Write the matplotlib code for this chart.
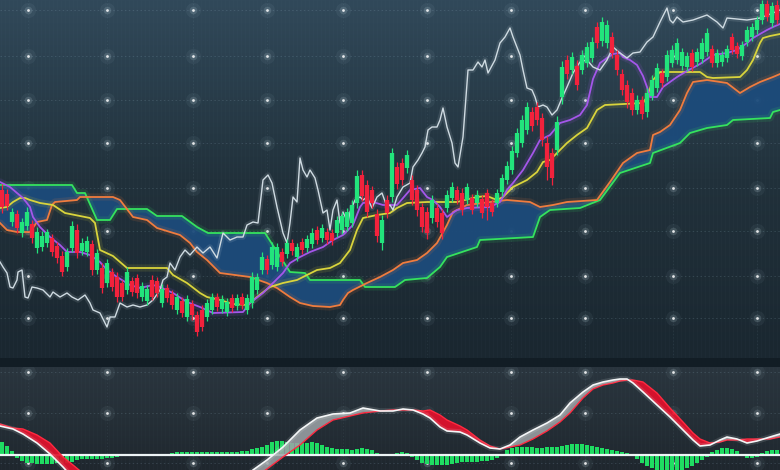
import numpy as np
import matplotlib.pyplot as plt
from matplotlib.colors import LinearSegmentedColormap

# ---- candle data (price units), one candle every 5 time steps ----
opens = [170, 166, 138, 146, 127, 134, 136, 112, 113, 117,
         122, 114, 104, 93, 112, 130, 109, 108, 116, 90,
         92, 77, 88, 83, 77, 70, 79, 82, 63, 59,
         80, 79, 57, 72, 66, 50, 59, 43, 56, 45,
         50, 43, 50, 63, 51, 48, 62, 54, 63, 50,
         57, 70, 90, 101, 95, 93, 108, 106, 117, 103,
         118, 112, 116, 130, 122, 128, 127, 127, 130, 133,
         137, 157, 185, 175, 170, 146, 117, 160, 163, 193,
         197, 192, 180, 170, 153, 148, 142, 152, 147, 152,
         162, 170, 167, 160, 162, 157, 161, 167, 157, 157,
         168, 180, 190, 207, 217, 230, 248, 253, 242, 217,
         207, 210, 263, 300, 290, 294, 290, 297, 302, 333,
         319, 317, 323, 305, 286, 275, 267, 250, 260, 248,
         264, 272, 287, 283, 297, 300, 294, 293, 307, 298,
         301, 308, 311, 297, 298, 302, 323, 314, 304, 318,
         323, 330, 340, 356, 337, 355]
closes = [153, 154, 148, 132, 138, 148, 122, 128, 124, 128,
          108, 102, 88, 108, 134, 107, 117, 119, 90, 107,
          72, 97, 73, 63, 63, 88, 68, 67, 74, 71,
          63, 67, 71, 62, 55, 63, 47, 61, 45, 28,
          33, 57, 63, 53, 61, 58, 52, 62, 55, 62,
          83, 83, 103, 90, 113, 113, 98, 117, 109, 113,
          110, 121, 127, 120, 132, 120, 119, 140, 144, 148,
          155, 184, 164, 148, 157, 124, 140, 147, 207, 176,
          180, 205, 160, 150, 133, 127, 160, 138, 127, 165,
          173, 160, 150, 173, 150, 165, 147, 153, 148, 167,
          182, 194, 209, 227, 240, 253, 234, 240, 220, 193,
          182, 238, 293, 286, 303, 275, 305, 313, 318, 317,
          338, 335, 307, 290, 270, 258, 250, 260, 246, 267,
          280, 292, 277, 305, 310, 317, 308, 304, 293, 308,
          317, 327, 297, 307, 305, 311, 310, 306, 315, 330,
          333, 340, 356, 343, 354, 340]
highs = [176, 171, 152, 150, 142, 153, 140, 133, 129, 131,
         126, 118, 109, 112, 139, 136, 122, 124, 120, 111,
         97, 101, 92, 88, 80, 93, 83, 86, 78, 75,
         85, 83, 76, 76, 70, 67, 63, 65, 60, 49,
         55, 61, 67, 67, 65, 62, 66, 66, 67, 66,
         88, 87, 108, 105, 118, 117, 112, 121, 121, 117,
         122, 125, 132, 134, 136, 132, 131, 144, 148, 152,
         160, 190, 190, 180, 174, 151, 145, 165, 212, 198,
         202, 210, 185, 175, 157, 153, 165, 156, 151, 170,
         178, 174, 172, 177, 166, 170, 165, 171, 161, 171,
         186, 199, 214, 232, 245, 258, 253, 258, 247, 224,
         212, 244, 299, 305, 308, 300, 310, 318, 323, 338,
         343, 340, 328, 310, 291, 280, 272, 265, 264, 272,
         285, 297, 291, 310, 315, 322, 312, 308, 311, 312,
         322, 332, 315, 311, 309, 315, 327, 318, 319, 334,
         337, 344, 360, 360, 358, 360]
lows = [147, 150, 134, 127, 123, 130, 117, 107, 109, 113,
        104, 97, 84, 89, 108, 102, 105, 104, 85, 86,
        67, 73, 69, 58, 59, 66, 64, 62, 59, 55,
        60, 63, 53, 58, 51, 46, 43, 39, 40, 24,
        29, 39, 46, 49, 47, 44, 48, 50, 51, 46,
        52, 66, 86, 86, 91, 89, 94, 102, 105, 99,
        106, 108, 112, 116, 118, 116, 115, 123, 126, 129,
        133, 152, 159, 143, 152, 118, 110, 142, 158, 171,
        175, 187, 155, 144, 128, 121, 137, 133, 121, 148,
        158, 156, 145, 156, 146, 153, 142, 140, 144, 153,
        164, 176, 186, 203, 213, 226, 229, 235, 214, 180,
        175, 205, 256, 281, 286, 270, 286, 293, 298, 312,
        314, 312, 302, 285, 265, 252, 245, 246, 241, 243,
        260, 268, 273, 279, 293, 296, 290, 289, 289, 294,
        297, 304, 293, 293, 294, 298, 306, 302, 300, 314,
        319, 326, 336, 339, 333, 336]

# ---- ichimoku lines (time, price) ----
span_b_t = [0, 72, 77, 85, 97, 110, 117, 147, 157, 182,
            197, 208, 265, 290, 305, 310, 360, 365, 395, 405,
            427, 440, 447, 477, 480, 533, 540, 550, 580, 600,
            620, 650, 653, 680, 690, 707, 727, 733, 770, 773, 780]
span_b = [175, 175, 167, 167, 140, 140, 151, 151, 144, 144,
          133, 127, 127, 88, 87, 80, 80, 73, 73, 80,
          82, 93, 103, 113, 120, 123, 143, 150, 152, 160,
          187, 197, 207, 217, 227, 232, 235, 240, 242, 248, 250]

span_a_t = [0, 7, 17, 30, 37, 47, 52, 55, 77, 80,
            113, 120, 133, 147, 157, 180, 190, 197, 207, 220,
            250, 267, 277, 290, 300, 313, 330, 340, 343, 348,
            353, 367, 380, 393, 403, 417, 427, 437, 447, 453,
            467, 490, 507, 530, 540, 553, 567, 597, 610, 623,
            637, 650, 653, 660, 670, 680, 687, 693, 707, 727,
            740, 750, 760, 773, 780]
span_a = [137, 130, 128, 128, 138, 140, 155, 158, 160, 163,
          163, 160, 143, 140, 132, 125, 117, 108, 100, 87,
          83, 77, 72, 63, 57, 54, 53, 55, 60, 67,
          70, 77, 83, 90, 97, 100, 107, 117, 135, 148,
          155, 158, 160, 158, 153, 155, 158, 160, 178, 197,
          207, 210, 225, 228, 235, 250, 267, 278, 280, 277,
          267, 273, 278, 283, 286]

kijun_t = [0, 7, 13, 20, 25, 30, 40, 53, 65, 90,
           95, 100, 113, 127, 167, 173, 187, 200, 207, 220,
           233, 247, 250, 257, 262, 270, 283, 297, 303, 317,
           330, 340, 350, 357, 363, 377, 390, 397, 407, 427,
           457, 477, 487, 497, 503, 513, 527, 537, 543, 550,
           560, 567, 577, 587, 597, 605, 643, 647, 653, 660,
           700, 707, 713, 740, 747, 753, 760, 763, 770, 780]
kijun = [152, 153, 158, 162, 162, 160, 157, 155, 147, 142,
         137, 110, 104, 92, 92, 85, 77, 67, 63, 60,
         56, 55, 57, 63, 67, 73, 77, 80, 83, 90,
         92, 97, 110, 130, 142, 145, 147, 152, 157, 158,
         158, 163, 164, 160, 163, 173, 180, 188, 198, 200,
         210, 217, 225, 232, 250, 255, 257, 263, 280, 288,
         288, 283, 282, 283, 290, 300, 317, 322, 324, 326]

tenkan_t = [0, 10, 17, 23, 30, 33, 40, 50, 60, 67,
            80, 90, 100, 107, 117, 130, 140, 153, 160, 173,
            187, 200, 213, 243, 250, 263, 273, 283, 290, 300,
            310, 323, 333, 343, 353, 360, 363, 373, 383, 397,
            410, 420, 427, 433, 440, 447, 457, 467, 490, 500,
            507, 513, 523, 533, 540, 550, 560, 570, 580, 587,
            593, 600, 607, 613, 620, 623, 630, 637, 643, 647,
            650, 657, 663, 677, 687, 700, 713, 727, 737, 747,
            753, 767, 773, 780]
tenkan = [178, 173, 167, 162, 153, 143, 133, 123, 115, 108,
          108, 105, 98, 90, 83, 75, 72, 75, 73, 67,
          58, 53, 47, 48, 57, 67, 77, 87, 97, 103,
          108, 113, 120, 125, 135, 153, 157, 158, 155, 155,
          170, 172, 163, 160, 153, 143, 150, 152, 153, 158,
          170, 177, 190, 207, 220, 225, 237, 240, 245, 255,
          281, 297, 302, 306, 307, 303, 300, 295, 284, 273,
          263, 263, 273, 283, 289, 296, 305, 307, 310, 317,
          322, 330, 333, 336]

chikou_t = [0, 3, 7, 10, 13, 17, 18, 22, 25, 28,
            32, 37, 43, 50, 53, 60, 67, 72, 78, 85,
            90, 93, 100, 107, 110, 115, 120, 127, 133, 140,
            147, 153, 160, 163, 167, 170, 175, 180, 185, 190,
            197, 203, 210, 217, 223, 230, 237, 243, 247, 253,
            258, 263, 268, 272, 277, 283, 287, 290, 293, 297,
            300, 303, 307, 310, 315, 318, 323, 327, 330, 333,
            337, 340, 343, 348, 350, 355, 360, 363, 367, 372,
            377, 382, 387, 390, 393, 397, 403, 410, 413, 418,
            422, 425, 428, 432, 437, 440, 443, 447, 452, 455,
            458, 463, 468, 473, 478, 482, 485, 488, 495, 500,
            505, 510, 513, 520, 523, 527, 532, 535, 538, 543,
            547, 552, 557, 562, 567, 573, 580, 587, 593, 600,
            607, 613, 620, 627, 633, 640, 647, 653, 660, 667,
            670, 673, 677, 683, 693, 707, 717, 723, 727, 747,
            760, 773, 780]
chikou = [98, 93, 87, 73, 72, 80, 88, 90, 63, 62,
          73, 72, 70, 63, 68, 63, 67, 63, 60, 65,
          57, 50, 47, 33, 43, 43, 57, 53, 55, 53,
          55, 60, 70, 80, 83, 97, 90, 103, 110, 105,
          113, 107, 113, 102, 127, 120, 123, 123, 135, 138,
          137, 180, 185, 177, 153, 127, 117, 137, 163, 158,
          202, 190, 183, 190, 182, 170, 147, 150, 130, 150,
          160, 137, 148, 137, 148, 160, 163, 160, 163, 152,
          163, 167, 153, 155, 150, 163, 173, 177, 193, 200,
          207, 213, 230, 233, 233, 240, 252, 233, 217, 197,
          193, 223, 290, 290, 298, 293, 300, 287, 300, 317,
          323, 332, 323, 305, 290, 272, 270, 263, 253, 255,
          253, 245, 250, 262, 273, 287, 298, 300, 293, 290,
          300, 313, 307, 302, 307, 308, 318, 323, 338, 352,
          340, 337, 343, 338, 340, 345, 338, 332, 342, 340,
          342, 347, 350]

# ---- MACD panel ----
macd_t = [0, 13, 23, 37, 50, 63, 73, 85, 120, 230,
          253, 267, 283, 300, 317, 333, 350, 363, 380, 393,
          403, 413, 423, 430, 440, 447, 460, 467, 480, 490,
          500, 510, 520, 533, 547, 560, 570, 583, 593, 603,
          613, 620, 627, 633, 643, 657, 670, 683, 693, 700,
          710, 720, 727, 737, 747, 757, 770, 780]
macd_line = [29, 26, 21, 12, 1, -12, -23, -35, -45, -40,
             -15, -5, 8, 25, 37, 41, 42, 47, 44, 44,
             46, 45, 41, 37, 28, 24, 23, 20, 12, 7,
             6, 10, 18, 25, 32, 40, 52, 63, 70, 73,
             75, 76, 76, 72, 63, 50, 38, 25, 15, 9,
             10, 15, 18, 16, 12, 14, 18, 21]
signal_line = [31, 27, 26, 20, 12, -2, -10, -20, -40, -45,
               -24, -14, -2, 10, 25, 35, 39, 42, 44, 45,
               45, 45, 44, 45, 40, 35, 29, 25, 15, 9,
               6, 8, 10, 16, 24, 33, 42, 57, 66, 70,
               72, 74, 75, 75, 73, 62, 47, 33, 22, 16,
               12, 13, 15, 15, 16, 16, 16, 18]
hist = [13, 9, 4, -3, -6, -8, -8, -9, -9, -9,
        -9, -8, -8, -8, -7, -5, -4, -4, -4, -4,
        -4, -3, -3, -2, -1, 0, 0, 0, 0, 0,
        0, 0, 0, 1, 2, 3, 3, 3, 3, 3,
        3, 3, 3, 3, 3, 3, 3, 3, 4, 4,
        6, 7, 8, 10, 13, 14, 14, 13, 12, 12,
        12, 12, 13, 12, 10, 8, 7, 6, 6, 6,
        5, 6, 7, 6, 5, 2, 0, 0, 1, 2,
        3, 2, -2, -5, -8, -9, -10, -10, -10, -10,
        -9, -8, -7, -7, -7, -7, -6, -6, -5, -3,
        1, 5, 7, 8, 8, 8, 8, 7, 7, 8,
        8, 8, 9, 10, 11, 11, 11, 10, 9, 8,
        7, 6, 5, 4, 3, 2, 0, -4, -8, -11,
        -13, -15, -16, -17, -17, -16, -15, -13, -11, -8,
        -5, -2, 3, 5, 7, 7, 6, 4, 0, -3,
        -3, -2, 2, 4, 5, 5]

# grid dot positions
grid_t = [28, 107, 193, 267, 343, 427, 511, 585, 673, 757]
grid_price = [350, 304, 260, 217, 172, 129, 84, 42]
grid_macd = [83, 42, -8]

# colours
UP = '#22e47c'
DOWN = '#f2223c'
CLOUD = '#1c4b7b'


def glow_line(ax, x, y, color, lw=1.3, z=3):
    # soft halo under the line, then the line itself
    ax.plot(x, y, color=color, lw=lw * 4, alpha=0.12, zorder=z, solid_capstyle='round')
    ax.plot(x, y, color=color, lw=lw, zorder=z + 0.1)


def draw_grid(ax, rows, top, bottom):
    ax.vlines(np.arange(1, 780, 4), bottom, top, color='#8fb0c2', lw=0.4, alpha=0.05, zorder=0.5)
    for r in rows:
        ax.axhline(r, color='#9bbccc', lw=0.7, ls=(0, (1.5, 2.5)), alpha=0.18, zorder=0.6)
    for c in grid_t:
        ax.axvline(c, color='#9bbccc', lw=0.6, ls=(0, (1.5, 2.5)), alpha=0.10, zorder=0.6)
    gx, gy = np.meshgrid(grid_t, rows)
    ax.scatter(gx, gy, s=120, color='#cfeefa', alpha=0.05, lw=0, zorder=0.7)
    ax.scatter(gx, gy, s=30, color='#dff4fb', alpha=0.15, lw=0, zorder=0.7)
    ax.scatter(gx, gy, s=4, color='white', alpha=0.85, lw=0, zorder=0.8)


fig = plt.figure(figsize=(7.8, 4.7), dpi=100, facecolor='#121d25')
ax = fig.add_axes([0, 112 / 470, 1, 358 / 470])
ax2 = fig.add_axes([0, 0, 1, 103 / 470])

# background gradients
grad = np.linspace(0, 1, 256).reshape(-1, 1)
cm_main = LinearSegmentedColormap.from_list('bg', ['#1a2730', '#21313b', '#31495a'])
ax.imshow(grad, extent=[0, 780, 2, 360], origin='lower', aspect='auto', cmap=cm_main, zorder=0)
cm_low = LinearSegmentedColormap.from_list('bg2', ['#1f272e', '#252f37', '#2a353e'])
ax2.imshow(grad, extent=[0, 780, -15, 88], origin='lower', aspect='auto', cmap=cm_low, zorder=0)

draw_grid(ax, grid_price, 360, 2)
draw_grid(ax2, grid_macd, 88, -15)

# ---- ichimoku cloud ----
tf = np.linspace(0, 780, 1561)
a_f = np.interp(tf, span_a_t, span_a)
b_f = np.interp(tf, span_b_t, span_b)
ax.fill_between(tf, a_f, b_f, color=CLOUD, alpha=0.95, lw=0, zorder=1)

glow_line(ax, span_b_t, span_b, '#35e25e')
glow_line(ax, span_a_t, span_a, '#f07c3e')
glow_line(ax, kijun_t, kijun, '#d9d43c')
glow_line(ax, tenkan_t, tenkan, '#a457ea')
glow_line(ax, chikou_t, chikou, '#cfdbe2', lw=1.0)

# ---- candles ----
t_c = 2 + 5 * np.arange(len(opens))
o = np.array(opens)
c = np.array(closes)
cols = [UP if cc >= oo else DOWN for oo, cc in zip(o, c)]
ax.vlines(t_c, lows, highs, colors=cols, lw=0.9, zorder=4)
ax.bar(t_c, c - o, bottom=o, width=6, color=cols, alpha=0.15, lw=0, zorder=3.9)
ax.bar(t_c, c - o, bottom=o, width=3.2, color=cols, lw=0, zorder=4.1)

ax.set_xlim(0, 780)
ax.set_ylim(2, 360)
ax.set_axis_off()

# ---- MACD panel ----
ax2.bar(t_c, hist, width=3.2, color='#1fdc62', lw=0, zorder=2)
ax2.axhline(0, color='#eef4f6', lw=1.6, zorder=3)
m = np.array(macd_line)
s = np.array(signal_line)
ax2.fill_between(macd_t, m, s, where=s >= m, interpolate=True, color='#e3102c', alpha=0.92, lw=0, zorder=4)
ax2.fill_between(macd_t, m, s, where=s < m, interpolate=True, color='#9ea4a8', alpha=0.85, lw=0, zorder=4)
ax2.plot(macd_t, s, color='#ff2a40', lw=1.0, zorder=5)
ax2.plot(macd_t, m, color='#f4f6f7', lw=4, alpha=0.12, zorder=5)
ax2.plot(macd_t, m, color='#f4f6f7', lw=1.2, zorder=5.1)
ax2.set_xlim(0, 780)
ax2.set_ylim(-15, 88)
ax2.set_axis_off()

fig.savefig('out.png', dpi=100, facecolor=fig.get_facecolor())
